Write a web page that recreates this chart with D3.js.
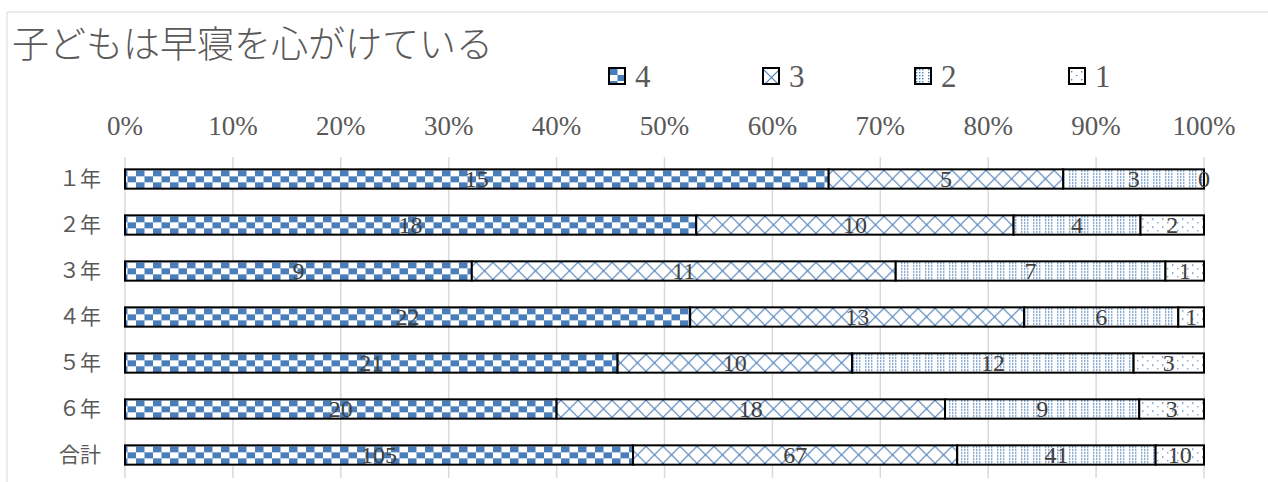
<!DOCTYPE html>
<html lang="ja">
<head>
<meta charset="utf-8">
<script src="https://cdn.jsdelivr.net/npm/d3@7.9.0/dist/d3.min.js"></script>
<style>
  html, body { margin: 0; padding: 0; background: #fff; }
  svg { display: block; }
</style>
</head>
<body>
<svg id="chart" width="1268" height="482"></svg>
<script>
/* --- Data --- */
const title = '子どもは早寝を心がけている';
const categories = ['１年', '２年', '３年', '４年', '５年', '６年', '合計'];
const seriesNames = ['4', '3', '2', '1'];
const series4 = [15, 18, 9, 22, 21, 20, 105];
const series3 = [5, 10, 11, 13, 10, 18, 67];
const series2 = [3, 4, 7, 6, 12, 9, 41];
const series1 = [0, 2, 1, 1, 3, 3, 10];
const tickValues = [0, 0.1, 0.2, 0.3, 0.4, 0.5, 0.6, 0.7, 0.8, 0.9, 1];

const blue = '#4a7ebb';
const serif = '"Liberation Serif", "DejaVu Serif", serif';
const cjk = '"Noto Sans CJK JP", "Noto Sans", sans-serif';

const svg = d3.select('#chart');

/* --- Patterns (user space = each bar's own row group) --- */
const defs = svg.append('defs');

// 4 : checkerboard
const pChk = defs.append('pattern').attr('id', 'p4')
  .attr('patternUnits', 'userSpaceOnUse').attr('y', 1).attr('width', 17).attr('height', 12);
pChk.append('rect').attr('width', 17).attr('height', 12).attr('fill', '#fff');
pChk.append('rect').attr('x', 0).attr('y', 0).attr('width', 8.5).attr('height', 6).attr('fill', blue);
pChk.append('rect').attr('x', 8.5).attr('y', 6).attr('width', 8.5).attr('height', 6).attr('fill', blue);

// 3 : diagonal cross, one diamond per bar height
const pX = defs.append('pattern').attr('id', 'p3')
  .attr('patternUnits', 'userSpaceOnUse').attr('y', 1).attr('width', 17).attr('height', 17);
pX.append('rect').attr('width', 17).attr('height', 17).attr('fill', '#fff');
pX.append('path').attr('d', 'M0,0L17,17M17,0L0,17')
  .attr('stroke', blue).attr('stroke-width', 1.1).attr('fill', 'none');

// 2 : dense dotted grid
const pD = defs.append('pattern').attr('id', 'p2')
  .attr('patternUnits', 'userSpaceOnUse').attr('width', 12).attr('height', 6);
pD.append('rect').attr('width', 12).attr('height', 6).attr('fill', '#fff');
[[1, 1], [4, 1], [7, 1], [1, 4], [4, 4], [7, 4]].forEach(([x, y]) => {
  pD.append('rect').attr('x', x).attr('y', y).attr('width', 1.4).attr('height', 1.4).attr('fill', blue);
});

// 1 : sparse dots
const pS = defs.append('pattern').attr('id', 'p1')
  .attr('patternUnits', 'userSpaceOnUse').attr('width', 10).attr('height', 8);
pS.append('rect').attr('width', 10).attr('height', 8).attr('fill', '#fff');
pS.append('rect').attr('x', 2).attr('y', 3).attr('width', 1.4).attr('height', 1.4).attr('fill', blue);
pS.append('rect').attr('x', 7).attr('y', 7).attr('width', 1.4).attr('height', 1.4).attr('fill', blue);

const fills = ['url(#p4)', 'url(#p3)', 'url(#p2)', 'url(#p1)'];

/* --- Frame --- */
svg.append('path').attr('d', 'M7,482 L7,12 L1268,12')
  .attr('fill', 'none').attr('stroke', '#d9d9d9').attr('stroke-width', 1);

/* --- Title --- */
svg.append('text').attr('x', 12).attr('y', 58)
  .attr('font-family', cjk).attr('font-size', 37).attr('font-weight', 300)
  .attr('fill', '#595959').text(title);

/* --- Scales --- */
const x = d3.scaleLinear().domain([0, 1]).range([125, 1204]);
const y = d3.scaleBand().domain(categories).range([156, 478])
  .paddingInner(0.58).paddingOuter(0.29);

/* --- Grid + axis labels --- */
svg.append('g').selectAll('line').data(tickValues).join('line')
  .attr('x1', d => x(d)).attr('x2', d => x(d))
  .attr('y1', 157).attr('y2', 478)
  .attr('stroke', '#d9d9d9').attr('stroke-width', 1.5);

svg.append('g').selectAll('text').data(tickValues).join('text')
  .attr('x', d => x(d)).attr('y', 135)
  .attr('text-anchor', 'middle')
  .attr('font-family', serif).attr('font-size', 27).attr('fill', '#595959')
  .text(d3.format('.0%'));

svg.append('g').selectAll('text').data(categories).join('text')
  .attr('x', 101).attr('y', d => y(d) + y.bandwidth() / 2 + 7)
  .attr('text-anchor', 'end')
  .attr('font-family', cjk).attr('font-size', 21).attr('fill', '#595959')
  .text(d => d);

/* --- Stacked bars --- */
const rows = categories.map((c, i) => ({
  cat: c, '4': series4[i], '3': series3[i], '2': series2[i], '1': series1[i]
}));
const stack = d3.stack().keys(seriesNames).offset(d3.stackOffsetExpand);
const layers = stack(rows);

// one group per category so patterns line up with each bar's top edge
const segs = categories.map((c, i) => layers.map((layer, k) => ({
  cat: c, key: layer.key, k, x0: layer[i][0], x1: layer[i][1], value: layer[i].data[layer.key]
})));

const rowG = svg.append('g').selectAll('g').data(segs).join('g')
  .attr('transform', d => `translate(0,${y(d[0].cat)})`);

rowG.selectAll('rect').data(d => d).join('rect')
  .attr('x', d => x(d.x0))
  .attr('y', 0)
  .attr('width', d => x(d.x1) - x(d.x0))
  .attr('height', y.bandwidth())
  .attr('fill', d => fills[d.k])
  .attr('stroke', '#000').attr('stroke-width', 2);

/* --- Data labels --- */
rowG.selectAll('text').data(d => d).join('text')
  .attr('x', d => (x(d.x0) + x(d.x1)) / 2)
  .attr('y', y.bandwidth() / 2 + 8)
  .attr('text-anchor', 'middle')
  .attr('font-family', serif).attr('font-size', 24).attr('fill', '#404040')
  .text(d => d.value);

/* --- Legend --- */
const legendX = [609, 763, 915, 1069];
const legend = svg.append('g').selectAll('g').data(seriesNames).join('g')
  .attr('transform', (_, i) => `translate(${legendX[i]},68)`);
legend.append('rect').attr('width', 16).attr('height', 16)
  .attr('fill', (_, i) => fills[i]).attr('stroke', '#000').attr('stroke-width', 2);
legend.append('text').attr('x', 26).attr('y', 19)
  .attr('font-family', serif).attr('font-size', 31).attr('fill', '#595959')
  .text(d => d);
</script>
</body>
</html>
